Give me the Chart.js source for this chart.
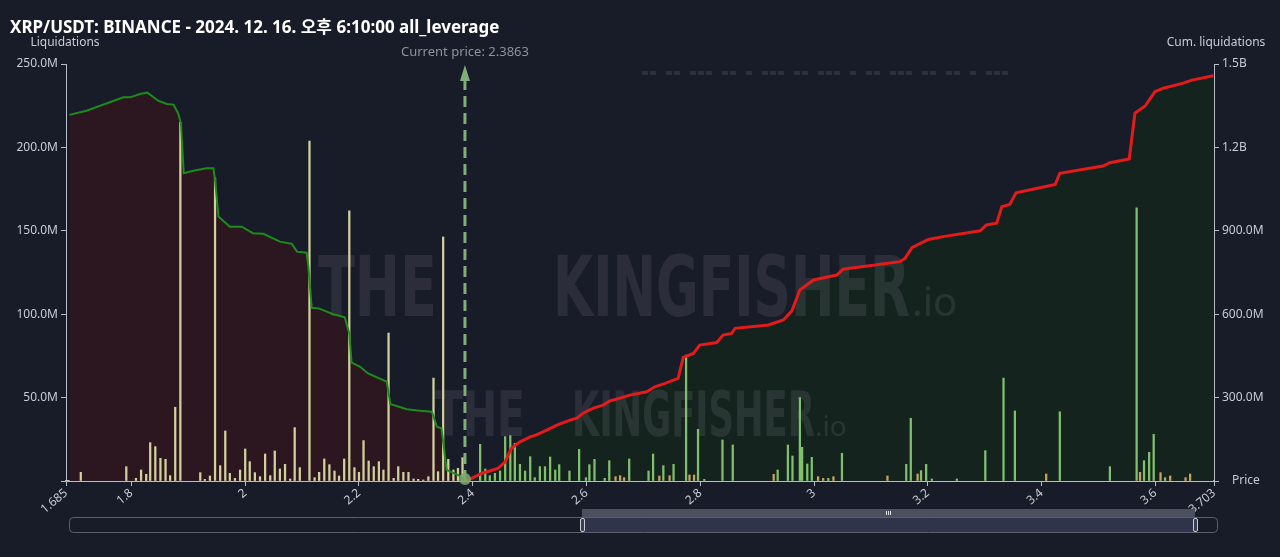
<!DOCTYPE html>
<html>
<head>
<meta charset="utf-8">
<script src="https://cdn.jsdelivr.net/npm/chart.js@4/dist/chart.umd.min.js"></script>
<style>
    html, body { margin: 0; padding: 0; background: #181b28; }
    canvas { display: block; }
</style>
</head>
<body>
<canvas id="grafico" width="1280" height="557"></canvas>
<script>
const titulo = 'XRP/USDT: BINANCE - 2024. 12. 16. 오후 6:10:00 all_leverage';
const precioActual = 2.3863;
const xTicks = [1.685, 1.8, 2, 2.2, 2.4, 2.6, 2.8, 3, 3.2, 3.4, 3.6, 3.703];

// barras por debajo del precio actual (M)
const bajoPrecios = [1.711, 1.791, 1.808, 1.817, 1.826, 1.833, 1.842, 1.851, 1.860, 1.868, 1.877, 1.886, 1.921, 1.929, 1.938, 1.947, 1.956, 1.965, 1.973, 1.982, 1.991, 2.000, 2.008, 2.017, 2.026, 2.035, 2.044, 2.052, 2.061, 2.070, 2.079, 2.087, 2.096, 2.113, 2.122, 2.130, 2.139, 2.148, 2.157, 2.165, 2.174, 2.183, 2.192, 2.200, 2.208, 2.217, 2.226, 2.235, 2.243, 2.252, 2.261, 2.269, 2.278, 2.287, 2.296, 2.304, 2.313, 2.322, 2.331, 2.339, 2.348, 2.357, 2.366, 2.374, 2.382];
const bajoValores = [5.2, 8.6, 1.6, 6.6, 4, 23, 20.6, 13.6, 13, 3.2, 44.2, 215, 5, 1, 3, 181.7, 9.2, 30, 4.6, 1.6, 6.6, 19.2, 11.6, 5, 2.6, 16.2, 3.2, 18, 7.2, 10, 1.2, 32, 8, 203.8, 2, 5.2, 13.2, 9.8, 6, 3, 13.2, 161.9, 8, 5.2, 24.2, 12, 8.6, 11.6, 6.6, 88.7, 1.6, 8.6, 5.2, 5.2, 1.2, 1, 0.6, 2.6, 61.7, 5.6, 146.3, 13, 6.6, 7.6, 14];

// barras por encima del precio actual (M)
const altoPrecios = [2.413, 2.422, 2.430, 2.439, 2.448, 2.457, 2.466, 2.474, 2.483, 2.492, 2.501, 2.509, 2.518, 2.527, 2.536, 2.545, 2.552, 2.570, 2.587, 2.599, 2.605, 2.614, 2.632, 2.640, 2.675, 2.709, 2.717, 2.735, 2.753, 2.775, 2.796, 2.807, 2.839, 2.857, 2.936, 2.954, 2.962, 2.975, 2.979, 2.988, 2.996, 3.025, 3.049, 3.162, 3.170, 3.188, 3.197, 3.207, 3.251, 3.301, 3.333, 3.353, 3.432, 3.520, 3.567, 3.580, 3.589, 3.597, 3.617];
const altoValores = [22, 7.2, 3.2, 4.6, 6, 26.6, 27.2, 22.6, 10, 6, 14.6, 2, 8.6, 8.6, 14.4, 6.6, 9.8, 6, 19, 2, 9.8, 13, 1.6, 12.2, 13.2, 6, 16.2, 9.2, 10, 75.5, 31, 1, 24.6, 21.6, 6.6, 21.6, 15, 50, 20.2, 10.2, 14.2, 1.6, 16.6, 10, 37.6, 6.2, 10, 1.2, 1.2, 18.2, 61.7, 42, 41.5, 8.6, 163.7, 12.2, 17.2, 28, 2];

const menoresPrecios = [2.651, 2.659, 2.666, 2.728, 2.746, 2.781, 2.789, 2.929, 3.007, 3.016, 3.034, 3.129, 3.182, 3.408, 3.573, 3.609, 3.626, 3.653, 3.661];
const menoresValores = [2.6, 3.2, 2, 3, 3.2, 3.6, 3.6, 4, 2.6, 1.6, 2.6, 3, 4.2, 4.2, 5.2, 5, 3, 2, 4.2];

// liquidaciones acumuladas (M)
const acumBajoPrecios = [1.691, 1.721, 1.786, 1.798, 1.815, 1.828, 1.847, 1.862, 1.874, 1.882, 1.887, 1.892, 1.909, 1.932, 1.944, 1.947, 1.953, 1.973, 1.994, 2.014, 2.032, 2.049, 2.061, 2.082, 2.091, 2.108, 2.111, 2.117, 2.129, 2.155, 2.175, 2.183, 2.187, 2.202, 2.216, 2.249, 2.255, 2.284, 2.307, 2.328, 2.337, 2.345, 2.354, 2.378, 2.386];
const acumBajoValores = [1317, 1332, 1380, 1380, 1392, 1397, 1368, 1356, 1354, 1323, 1287, 1107, 1116, 1125, 1125, 1083, 951, 915, 915, 891, 889, 873, 861, 853, 825, 821, 771, 623, 621, 600, 589, 531, 426, 411, 387, 357, 277, 258, 253, 249, 195, 190, 40, 18, 0];
const acumAltoPrecios = [2.389, 2.416, 2.430, 2.445, 2.457, 2.468, 2.483, 2.501, 2.512, 2.530, 2.548, 2.571, 2.583, 2.594, 2.612, 2.629, 2.641, 2.659, 2.676, 2.706, 2.720, 2.738, 2.761, 2.770, 2.788, 2.799, 2.829, 2.840, 2.855, 2.861, 2.920, 2.946, 2.961, 2.975, 2.999, 3.040, 3.051, 3.151, 3.160, 3.172, 3.201, 3.227, 3.292, 3.303, 3.321, 3.330, 3.344, 3.355, 3.397, 3.424, 3.432, 3.508, 3.520, 3.554, 3.564, 3.582, 3.599, 3.614, 3.649, 3.664, 3.702];
const acumAltoValores = [0, 28, 36, 46, 69, 118, 141, 159, 166, 183, 201, 219, 226, 244, 262, 273, 288, 298, 309, 321, 339, 351, 369, 445, 459, 489, 498, 525, 531, 549, 561, 579, 612, 687, 723, 741, 762, 789, 801, 839, 869, 879, 900, 921, 927, 987, 995, 1037, 1055, 1067, 1107, 1133, 1145, 1158, 1323, 1349, 1400, 1413, 1431, 1442, 1458];

const fuente = '"Noto Sans", "Noto Sans CJK KR", sans-serif';
const colorTexto = '#c8ccd4';

function puntos(precios, valores) {
    return precios.map((p, i) => ({ x: p, y: valores[i] }));
}

function formatoAcum(v) {
    if (v === 0) return '';
    if (v >= 1000) return (v / 1000).toFixed(1) + 'B';
    return v.toFixed(1) + 'M';
}

let decoracion = {
    id: 'decoracion',
    beforeDatasetsDraw(chart) {
        const ctx = chart.ctx;
        ctx.save();
        ctx.fillStyle = 'rgba(255,255,255,0.085)';
        ctx.textBaseline = 'alphabetic';
        ctx.font = 'bold 84px "Liberation Sans Narrow", "DejaVu Sans Condensed", sans-serif';
        ctx.fillText('THE', 318, 316, 119);
        ctx.fillText('KINGFISHER', 553, 316, 357);
        ctx.font = '40px "Noto Sans", sans-serif';
        ctx.fillText('.io', 912, 316);
        ctx.font = 'bold 62px "Liberation Sans Narrow", "DejaVu Sans Condensed", sans-serif';
        ctx.fillText('THE', 435, 436, 90);
        ctx.fillText('KINGFISHER', 572, 436, 243);
        ctx.font = '28px "Noto Sans", sans-serif';
        ctx.fillText('.io', 815, 436);
        ctx.restore();
    },
    afterDatasetsDraw(chart) {
        const ctx = chart.ctx;
        const area = chart.chartArea;
        const x = chart.scales.x.getPixelForValue(precioActual);
        ctx.save();
        ctx.strokeStyle = '#7fae7a';
        ctx.lineWidth = 3;
        ctx.setLineDash([11, 6]);
        ctx.beginPath();
        ctx.moveTo(x, area.bottom);
        ctx.lineTo(x, area.top + 12);
        ctx.stroke();
        ctx.setLineDash([]);
        ctx.fillStyle = '#7fae7a';
        ctx.beginPath();
        ctx.moveTo(x, area.top + 1);
        ctx.lineTo(x - 5, area.top + 17);
        ctx.lineTo(x + 5, area.top + 17);
        ctx.closePath();
        ctx.fill();
        ctx.fillStyle = 'rgba(122,168,112,0.85)';
        ctx.beginPath();
        ctx.arc(x, area.bottom - 2, 6, 0, Math.PI * 2);
        ctx.fill();
        ctx.fillStyle = '#8e929c';
        ctx.font = '13px ' + fuente;
        ctx.textAlign = 'center';
        ctx.textBaseline = 'middle';
        ctx.fillText('Current price: ' + precioActual, x, 52);
        ctx.restore();
    },
    afterDraw(chart) {
        const ctx = chart.ctx;
        const area = chart.chartArea;
        ctx.save();
        ctx.fillStyle = '#ffffff';
        ctx.font = 'bold 17px ' + fuente;
        ctx.textBaseline = 'middle';
        ctx.fillText(titulo, 10, 28, 497);
        ctx.fillStyle = colorTexto;
        ctx.font = '12px ' + fuente;
        ctx.textAlign = 'center';
        ctx.fillText('Liquidations', 65, 43);
        ctx.fillText('Cum. liquidations', 1216, 43);
        ctx.textAlign = 'left';
        ctx.fillText('Price', area.right + 18, area.bottom);

        // patron de guiones arriba
        ctx.fillStyle = '#2e3039';
        const patron = '-- -- --- -- - --- -- --- - -- --- -- -- - ---';
        let px = 642;
        for (const c of patron) {
            if (c === '-') ctx.fillRect(px, 71, 6, 4);
            px += 8;
        }

        // barra de zoom
        const x0 = area.left + 3, x1 = area.right + 3;
        const s0 = 582, s1 = 1195;
        ctx.fillStyle = '#30344a';
        ctx.fillRect(s0, 517, s1 - s0, 15);
        ctx.fillStyle = '#4b4f5e';
        ctx.fillRect(s0, 509, s1 - s0, 8);
        ctx.strokeStyle = '#5c606c';
        ctx.lineWidth = 1;
        ctx.beginPath();
        ctx.roundRect(x0 + 0.5, 517.5, x1 - x0, 15, 4);
        ctx.stroke();
        ctx.strokeStyle = '#c8ccd4';
        ctx.fillStyle = '#3a3e50';
        [s0, s1].forEach(h => {
            ctx.beginPath();
            ctx.roundRect(h - 2 + 0.5, 518.5, 4, 13, 1.5);
            ctx.fill();
            ctx.stroke();
        });
        ctx.fillStyle = '#e0e2e8';
        const mid = (s0 + s1) / 2;
        for (let i = -1; i <= 1; i++) ctx.fillRect(mid + i * 2 - 0.5, 511, 1, 4);
        ctx.restore();
    }
};

let CanvasG = document.getElementById('grafico').getContext('2d');
let datos = {
    datasets: [
        {
            type: 'line',
            data: puntos(acumBajoPrecios, acumBajoValores),
            yAxisID: 'y2',
            borderColor: '#1c8c1c',
            borderWidth: 2,
            backgroundColor: '#2c1620',
            fill: 'origin',
            pointRadius: 0,
            tension: 0,
            order: 0
        },
        {
            type: 'line',
            data: puntos(acumAltoPrecios, acumAltoValores),
            yAxisID: 'y2',
            borderColor: '#e31b1b',
            borderWidth: 3,
            backgroundColor: '#15231f',
            fill: 'origin',
            pointRadius: 0,
            tension: 0,
            order: 0
        },
        {
            type: 'bar',
            data: puntos(bajoPrecios, bajoValores),
            yAxisID: 'y',
            backgroundColor: '#d2d19c',
            barThickness: 1.6,
            grouped: false,
            order: 1
        },
        {
            type: 'bar',
            data: puntos(altoPrecios, altoValores),
            yAxisID: 'y',
            backgroundColor: '#80c06c',
            barThickness: 1.6,
            grouped: false,
            order: 1
        },
        {
            type: 'bar',
            data: puntos(menoresPrecios, menoresValores),
            yAxisID: 'y',
            backgroundColor: '#c9a25e',
            barThickness: 1.6,
            grouped: false,
            order: 1
        }
    ]
};

let opciones = {
    responsive: false,
    animation: false,
    layout: { padding: { top: 64, left: 0, right: 0, bottom: 0 } },
    plugins: {
        legend: { display: false },
        tooltip: { enabled: false },
        filler: { drawTime: 'beforeDatasetsDraw' }
    },
    scales: {
        x: {
            type: 'linear',
            min: 1.685,
            max: 3.703,
            offset: false,
            afterBuildTicks: s => { s.ticks = xTicks.map(v => ({ value: v })); },
            afterFit: s => { s.height = 76; },
            ticks: {
                color: colorTexto,
                font: { family: fuente, size: 12 },
                minRotation: 40,
                maxRotation: 40,
                autoSkip: false,
                padding: 0,
                callback: v => String(v)
            },
            grid: { offset: false, drawOnChartArea: false, color: '#b8bcc6', tickLength: 5 },
            border: { color: '#b8bcc6', width: 2 }
        },
        y: {
            position: 'left',
            min: 0,
            max: 250,
            afterFit: s => { s.width = 66; },
            ticks: {
                stepSize: 50,
                color: colorTexto,
                font: { family: fuente, size: 12 },
                padding: 3,
                callback: v => v === 0 ? '' : v.toFixed(1) + 'M'
            },
            grid: { drawOnChartArea: false, color: '#b8bcc6', tickLength: 5 },
            border: { color: '#b8bcc6', width: 1 }
        },
        y2: {
            position: 'right',
            min: 0,
            max: 1500,
            afterFit: s => { s.width = 66; },
            ticks: {
                stepSize: 300,
                color: colorTexto,
                font: { family: fuente, size: 12 },
                padding: 3,
                callback: v => formatoAcum(v)
            },
            grid: { drawOnChartArea: false, color: '#b8bcc6', tickLength: 5 },
            border: { color: '#b8bcc6', width: 1 }
        }
    }
};

let G1 = new Chart(CanvasG, {
    data: datos,
    options: opciones,
    plugins: [decoracion]
});
</script>
</body>
</html>
